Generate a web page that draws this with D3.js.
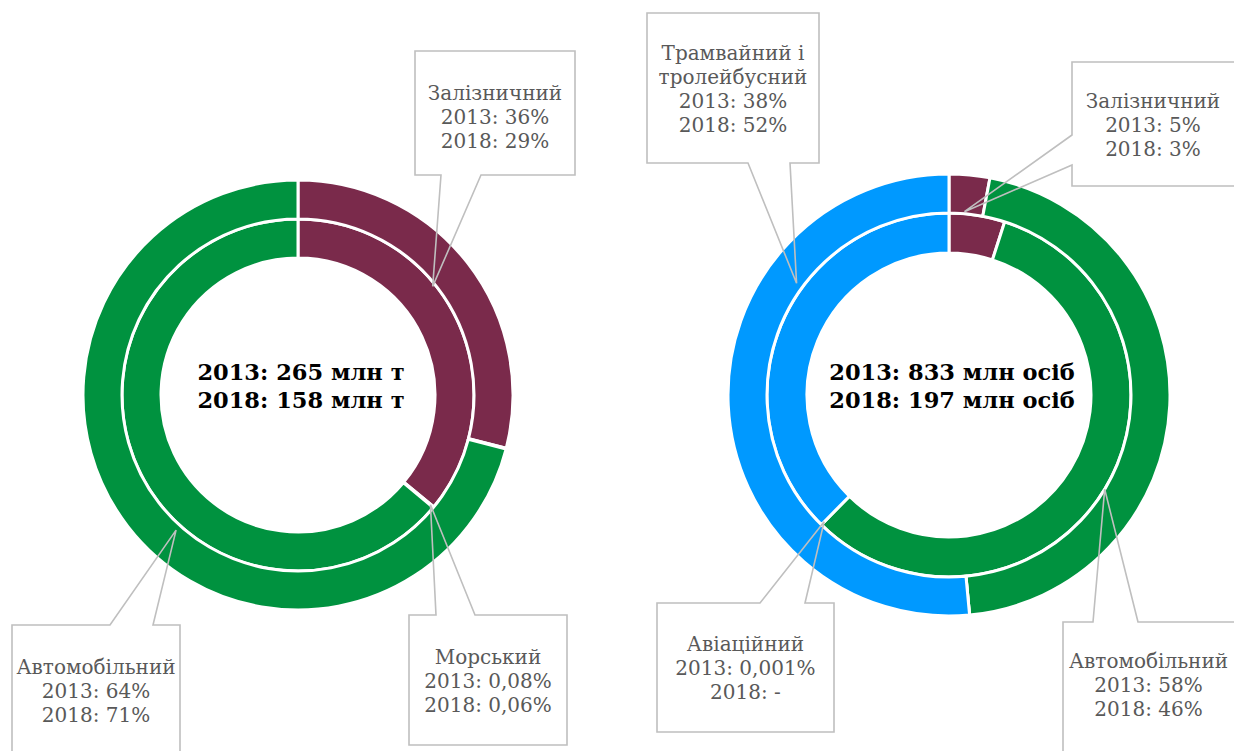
<!DOCTYPE html>
<html>
<head>
<meta charset="utf-8">
<script src="https://cdn.jsdelivr.net/npm/d3@7"></script>
<style>
  body { margin: 0; background: #fff; }
  svg { display: block; }
</style>
</head>
<body>
<div class="chart"></div>
<script>
// freight (left) and passengers (right), shares in %
var freightCats = ["Залізничний", "Морський", "Автомобільний"];
var freight2013 = [36, 0.08, 64];
var freight2018 = [29, 0.06, 71];
var freightTotals = [265, 158];

var passCats = ["Залізничний", "Автомобільний", "Авіаційний", "Трамвайний і тролейбусний"];
var pass2013 = [5, 58, 0.001, 38];
var pass2018 = [3, 46, 0, 52];
var passTotals = [833, 197];

var years = ["2013", "2018"];

var width = 1234, height = 751;

var svg = d3.select(".chart")
    .append("svg")
    .attr("width", width)
    .attr("height", height);

// colours by category
var color = d3.scaleOrdinal()
    .domain(["Залізничний", "Морський", "Автомобільний", "Авіаційний", "Трамвайний і тролейбусний"])
    .range(["#7a2a4b", "#2f5597", "#00923f", "#bfbfbf", "#0099ff"]);

function fmt(v) {
    if (v === 0) return "-";
    return String(v).replace(".", ",") + "%";
}

// callout layout: box [x0,y0,x1,y1], pointer base, tip on ring (0 = inner/2013, 1 = outer/2018)
var freightCallouts = [
    { i: 0, box: [415, 51, 575, 175], side: "bottom", base: [441, 481], tip: { ring: 1, f: 0.49, r: 173 }, ty: 117 },
    { i: 1, box: [409, 615, 567, 745], side: "top", base: [436, 475], tip: { ring: 0, f: 0.5, r: 172 }, ty: 681 },
    { i: 2, box: [12, 625, 180, 770], side: "top", base: [110, 153], tip: { ring: 1, f: 0.46, r: 182 }, ty: 691 }
];
var passCallouts = [
    { i: 3, box: [647, 13, 819, 163], side: "bottom", base: [748, 790], tip: { ring: 1, f: 0.71, r: 189 }, ty: 89, lines: ["Трамвайний і", "тролейбусний"] },
    { i: 0, box: [1072, 62, 1245, 186], side: "left", base: [135, 165], tip: { ring: 1, f: 0.45, r: 184 }, ty: 125 },
    { i: 2, box: [657, 603, 834, 732], side: "top", base: [760, 805], tip: { ring: 0, f: 0.5, r: 178 }, ty: 668 },
    { i: 1, box: [1063, 622, 1245, 770], side: "top", base: [1093, 1138], tip: { ring: 0, f: 0.5, r: 182 }, ty: 685 }
];

function donut(cx, cy, radii, cats, v2013, v2018, totals, unit, callouts) {
    var g = svg.append("g")
        .attr("transform", "translate(" + cx + "," + cy + ")");

    var pie = d3.pie().sort(null).value(function (d) { return d; });
    var rings = [pie(v2013), pie(v2018)];

    rings.forEach(function (arcs, k) {
        var arc = d3.arc()
            .innerRadius(radii[k])
            .outerRadius(radii[k + 1]);
        g.append("g")
            .selectAll("path")
            .data(arcs)
            .enter()
            .append("path")
            .attr("d", arc)
            .attr("fill", function (d, i) { return color(cats[i]); })
            .attr("stroke", "#fff")
            .attr("stroke-width", 3);
    });

    // totals in the middle
    var mid = g.append("text")
        .attr("text-anchor", "middle")
        .attr("font-family", "DejaVu Serif")
        .attr("font-weight", "bold")
        .attr("font-size", 22.5)
        .attr("fill", "#000");
    mid.append("tspan").attr("x", 3).attr("y", -15)
        .text(years[0] + ": " + totals[0] + " " + unit);
    mid.append("tspan").attr("x", 3).attr("y", 13)
        .text(years[1] + ": " + totals[1] + " " + unit);

    // callouts
    callouts.forEach(function (c) {
        var a = rings[c.tip.ring][c.i];
        var ang = a.startAngle + c.tip.f * (a.endAngle - a.startAngle);
        var tx = cx + c.tip.r * Math.sin(ang);
        var ty = cy - c.tip.r * Math.cos(ang);
        var b = c.box;

        svg.append("rect")
            .attr("x", b[0]).attr("y", b[1])
            .attr("width", b[2] - b[0]).attr("height", b[3] - b[1])
            .attr("fill", "#fff");

        var p = d3.path();
        if (c.side === "bottom") {
            p.moveTo(c.base[0], b[3]);
            p.lineTo(tx, ty);
            p.lineTo(c.base[1], b[3]);
            p.lineTo(b[2], b[3]);
            p.lineTo(b[2], b[1]);
            p.lineTo(b[0], b[1]);
            p.lineTo(b[0], b[3]);
            p.closePath();
        } else if (c.side === "top") {
            p.moveTo(c.base[1], b[1]);
            p.lineTo(tx, ty);
            p.lineTo(c.base[0], b[1]);
            p.lineTo(b[0], b[1]);
            p.lineTo(b[0], b[3]);
            p.lineTo(b[2], b[3]);
            p.lineTo(b[2], b[1]);
            p.closePath();
        } else {
            p.moveTo(b[0], c.base[0]);
            p.lineTo(tx, ty);
            p.lineTo(b[0], c.base[1]);
            p.lineTo(b[0], b[3]);
            p.lineTo(b[2], b[3]);
            p.lineTo(b[2], b[1]);
            p.lineTo(b[0], b[1]);
            p.closePath();
        }
        svg.append("path")
            .attr("d", p.toString())
            .attr("fill", "none")
            .attr("stroke", "#bfbfbf")
            .attr("stroke-width", 1.6);

        var lines = (c.lines || [cats[c.i]]).concat([
            years[0] + ": " + fmt(v2013[c.i]),
            years[1] + ": " + fmt(v2018[c.i])
        ]);
        var lh = 24;
        var y0 = c.ty - (lines.length - 1) * lh / 2;
        var t = svg.append("text")
            .attr("text-anchor", "middle")
            .attr("font-family", "DejaVu Serif")
            .attr("font-size", 20)
            .attr("fill", "#595959");
        lines.forEach(function (s, j) {
            t.append("tspan")
                .attr("x", (b[0] + Math.min(b[2], width)) / 2)
                .attr("y", y0 + j * lh)
                .attr("dy", "0.35em")
                .text(s);
        });
    });
}

donut(298, 395, [137, 176, 215], freightCats, freight2013, freight2018, freightTotals, "млн т", freightCallouts);
donut(949, 395, [142, 182, 221], passCats, pass2013, pass2018, passTotals, "млн осіб", passCallouts);
</script>
</body>
</html>
